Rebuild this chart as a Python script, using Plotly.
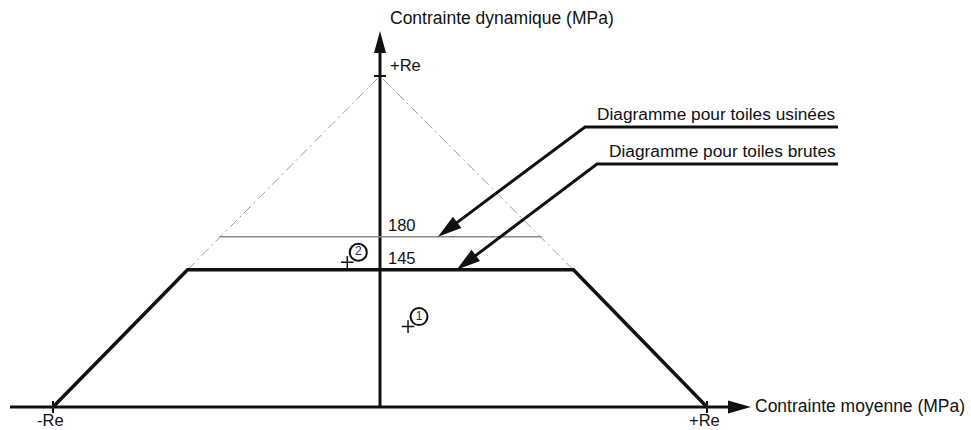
import math
import plotly.graph_objects as go

# ---------------- data (MPa, schematic, Re taken as 350) ----------------
RE = 350
trapeze_sm = [-350, -206, 207, 350]          # diagramme toiles brutes
trapeze_sd = [0, 145, 145, 0]
usinee_sm = [-172, 173]                       # diagramme toiles usinées
usinee_sd = [180, 180]
limite_g_sm = [-206, 0]                       # droite limite gauche (vers +Re)
limite_g_sd = [145, 350]
limite_d_sm = [207, 0]                        # droite limite droite
limite_d_sd = [145, 350]
niveaux = [145, 180]
niveaux_txt = ["145", "180"]
points_sm = [30, -35]
points_sd = [85, 153]
points_lbl = ["1", "2"]
ticks_x = [-350, 350]
ticks_x_txt = ["-Re", "+Re"]
ticks_y = [350]
ticks_y_txt = ["+Re"]
fleches_tip_sm = [62, 82]
fleches_tip_sd = [180, 145]
fleches_txt = ["Diagramme pour toiles usinées", "Diagramme pour toiles brutes"]
titre_x = "Contrainte moyenne (MPa)"
titre_y = "Contrainte dynamique (MPa)"

# ---------------- pixel <-> data mapping ----------------
W, H = 971, 430
OX, OY = 380, 407
KX = 327 / RE
KY = 331 / RE


def d2p(x, y):
    return OX + x * KX, OY - y * KY


def p2d(px, py):
    return (px - OX) / KX, (OY - py) / KY


INK = "#111111"
FONT = "Liberation Sans, Arial, sans-serif"


def head_path(tip_px, from_px, length=22, half=6.5):
    tx, ty = tip_px
    fx, fy = from_px
    dx, dy = tx - fx, ty - fy
    n = math.hypot(dx, dy)
    ux, uy = dx / n, dy / n
    bx, by = tx - length * ux, ty - length * uy
    nx, ny = -uy, ux
    pts = [(tx, ty), (bx + half * nx, by + half * ny), (bx - half * nx, by - half * ny)]
    dpts = [p2d(*p) for p in pts]
    path = "M {:.3f},{:.3f} L {:.3f},{:.3f} L {:.3f},{:.3f} Z".format(
        dpts[0][0], dpts[0][1], dpts[1][0], dpts[1][1], dpts[2][0], dpts[2][1])
    base = p2d(bx + 2 * ux, by + 2 * uy)
    return path, base


fig = go.Figure()
shapes = []
annotations = []

# ---------------- axes with arrows ----------------
x_from = (10, OY)
x_tip = (751, OY)
p, base = head_path(x_tip, x_from, 23, 6.5)
shapes.append(dict(type="path", path=p, xref="x", yref="y", fillcolor=INK, line=dict(width=0)))
xa0 = p2d(*x_from)
fig.add_trace(go.Scatter(x=[xa0[0], base[0]], y=[0, 0], mode="lines",
                         line=dict(color=INK, width=3), hoverinfo="skip"))

y_from = (OX, OY)
y_tip = (OX, 31)
p, base = head_path(y_tip, y_from, 22, 6)
shapes.append(dict(type="path", path=p, xref="x", yref="y", fillcolor=INK, line=dict(width=0)))
fig.add_trace(go.Scatter(x=[0, 0], y=[0, base[1]], mode="lines",
                         line=dict(color=INK, width=3), hoverinfo="skip"))

# ticks
for tx, tt in zip(ticks_x, ticks_x_txt):
    shapes.append(dict(type="line", xref="x", yref="y", x0=tx, x1=tx,
                       y0=-6 / KY, y1=6 / KY, line=dict(color=INK, width=2)))
    annotations.append(dict(x=tx, y=0, xref="x", yref="y", text=tt, showarrow=False,
                            xanchor="center", yanchor="middle", xshift=-3, yshift=-13,
                            font=dict(size=16.5, color=INK, family=FONT)))
for ty, tt in zip(ticks_y, ticks_y_txt):
    shapes.append(dict(type="line", xref="x", yref="y", x0=-6 / KX, x1=6 / KX,
                       y0=ty, y1=ty, line=dict(color=INK, width=2)))
    annotations.append(dict(x=0, y=ty, xref="x", yref="y", text=tt, showarrow=False,
                            xanchor="left", yanchor="middle", xshift=8, yshift=11,
                            font=dict(size=16.5, color=INK, family=FONT)))

# ---------------- limit lines ----------------
for sx, sy in [(limite_g_sm, limite_g_sd), (limite_d_sm, limite_d_sd)]:
    fig.add_trace(go.Scatter(x=sx, y=sy, mode="lines",
                             line=dict(color="#9a9a9a", width=1, dash="10px,4px,2px,4px"),
                             hoverinfo="skip"))

fig.add_trace(go.Scatter(x=usinee_sm, y=usinee_sd, mode="lines",
                         line=dict(color="#888888", width=1.3), hoverinfo="skip"))
fig.add_trace(go.Scatter(x=trapeze_sm, y=trapeze_sd, mode="lines",
                         line=dict(color=INK, width=3.5), hoverinfo="skip"))

for lv, lt in zip(niveaux, niveaux_txt):
    annotations.append(dict(x=0, y=lv, xref="x", yref="y", text=lt, showarrow=False,
                            xanchor="left", yanchor="middle", xshift=6, yshift=12,
                            font=dict(size=16.5, color=INK, family=FONT)))

# ---------------- points ----------------
fig.add_trace(go.Scatter(x=points_sm, y=points_sd, mode="markers",
                         marker=dict(symbol="cross-thin-open", size=9, color=INK,
                                     line=dict(color=INK, width=1.5)),
                         hoverinfo="skip"))
circ_x = [x + 11 / KX for x in points_sm]
circ_y = [y + 10 / KY for y in points_sd]
fig.add_trace(go.Scatter(x=circ_x, y=circ_y, mode="markers+text", text=points_lbl,
                         textposition="middle center",
                         textfont=dict(size=12, color="#1a2a4a", family=FONT),
                         marker=dict(symbol="circle-open", size=17, color=INK,
                                     line=dict(color=INK, width=2)),
                         hoverinfo="skip"))

# ---------------- leader arrows ----------------
elbows_px = [(585, 127), (597, 164)]
end_px = 838
for (ex, ey), tsm, tsd, txt in zip(elbows_px, fleches_tip_sm, fleches_tip_sd, fleches_txt):
    tip_px = d2p(tsm, tsd)
    p, base = head_path(tip_px, (ex, ey), 24, 7)
    shapes.append(dict(type="path", path=p, xref="x", yref="y", fillcolor=INK, line=dict(width=0)))
    e_d = p2d(ex, ey)
    end_d = p2d(end_px, ey)
    fig.add_trace(go.Scatter(x=[end_d[0], e_d[0], base[0]], y=[end_d[1], e_d[1], base[1]],
                             mode="lines", line=dict(color=INK, width=3), hoverinfo="skip"))
    annotations.append(dict(x=end_d[0], y=end_d[1], xref="x", yref="y", text=txt,
                            showarrow=False, xanchor="right", yanchor="middle",
                            xshift=0, yshift=13,
                            font=dict(size=17.3, color=INK, family=FONT)))

# ---------------- axis titles ----------------
annotations.append(dict(x=0, y=RE, xref="x", yref="y", text=titre_y, showarrow=False,
                        xanchor="center", yanchor="middle", xshift=122, yshift=58,
                        font=dict(size=17.5, color=INK, family=FONT)))
annotations.append(dict(x=RE, y=0, xref="x", yref="y", text=titre_x, showarrow=False,
                        xanchor="left", yanchor="middle", xshift=46, yshift=1,
                        font=dict(size=17.5, color=INK, family=FONT)))

x_lo, y_hi = p2d(0, 0)
x_hi, y_lo = p2d(W, H)
fig.update_layout(
    width=W, height=H, margin=dict(l=0, r=0, t=0, b=0),
    paper_bgcolor="white", plot_bgcolor="white", showlegend=False,
    xaxis=dict(range=[x_lo, x_hi], visible=False, fixedrange=True),
    yaxis=dict(range=[y_lo, y_hi], visible=False, fixedrange=True),
    shapes=shapes, annotations=annotations,
)

fig.write_html("out.html", config={"displayModeBar": False},
               post_script="document.body.style.margin='0';document.body.style.overflow='hidden';")
